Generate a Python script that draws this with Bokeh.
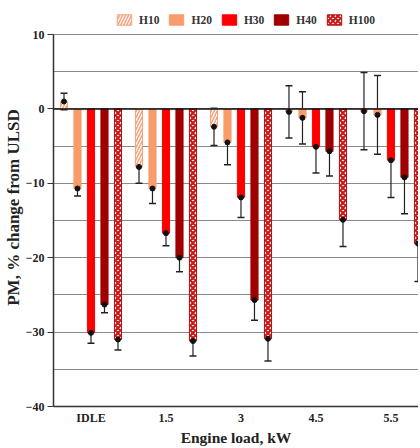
from bokeh.plotting import figure
from bokeh.models import (ColumnDataSource, Range1d, FixedTicker, Span, Whisker,
                          TeeHead, Legend, LegendItem)
from bokeh.embed import file_html
from bokeh.resources import INLINE

loads = ["IDLE", "1.5", "3", "4.5", "5.5"]
blends = ["H10", "H20", "H30", "H40", "H100"]

h10 = [1.0, -7.8, -2.4, -0.4, -0.3]
h20 = [-10.7, -10.7, -4.5, -1.2, -0.8]
h30 = [-30.1, -16.7, -11.9, -5.1, -6.9]
h40 = [-26.3, -20.0, -25.7, -5.7, -9.2]
h100 = [-31.0, -31.2, -30.9, -14.9, -18.1]

h10_err = [1.1, 2.2, 2.5, 3.5, 5.2]
h20_err = [1.0, 2.0, 3.0, 3.5, 5.3]
h30_err = [1.4, 1.7, 2.7, 3.5, 5.0]
h40_err = [1.1, 1.9, 2.7, 3.3, 4.9]
h100_err = [1.4, 2.0, 3.0, 3.6, 5.1]

series = [h10, h20, h30, h40, h100]
errors = [h10_err, h20_err, h30_err, h40_err, h100_err]
offsets = [-0.36, -0.18, 0.0, 0.18, 0.36]

styles = [
    dict(fill_color="white", line_color="#F6A27A", hatch_pattern="/", hatch_color="#F6A27A",
         hatch_weight=1.5, hatch_scale=6),
    dict(fill_color="#F89C6A", line_color="#F89C6A"),
    dict(fill_color="#FF0000", line_color="#FF0000"),
    dict(fill_color="#A00000", line_color="#A00000"),
    dict(fill_color="white", line_color="#B01010", hatch_pattern="x", hatch_color="#C81818",
         hatch_weight=2.2, hatch_scale=5),
]

FONT = "Liberation Serif"
FRAME_H = 398

p = figure(frame_width=365, frame_height=FRAME_H, output_backend="svg", toolbar_location=None,
           x_range=Range1d(0, 4.867), y_range=Range1d(-40, 13.5),
           min_border_left=47, min_border_right=0, min_border_top=8, min_border_bottom=30)
p.outline_line_color = None
p.background_fill_color = "white"

p.xgrid.grid_line_color = None
p.ygrid.ticker = FixedTicker(ticks=list(range(-35, 11, 5)))
p.ygrid.grid_line_color = "#8a8a8a"
p.ygrid.grid_line_width = 1.2

items = []
for i, (vals, errs, off, st, name) in enumerate(zip(series, errors, offsets, styles, blends)):
    xs = [j + 0.5 + off for j in range(len(loads))]
    src = ColumnDataSource(dict(x=xs, top=vals,
                                upper=[v + e for v, e in zip(vals, errs)],
                                lower=[v - e for v, e in zip(vals, errs)]))
    r = p.vbar(x="x", top="top", bottom=0, width=0.095, source=src, line_width=1, **st)
    items.append(LegendItem(label=name, renderers=[r]))
    w = Whisker(base="x", upper="upper", lower="lower", source=src,
                line_color="#222222", line_width=1.2,
                upper_head=TeeHead(size=7, line_color="#222222", line_width=1.5),
                lower_head=TeeHead(size=7, line_color="#222222", line_width=1.5))
    p.add_layout(w)
    p.scatter(x="x", y="top", source=src, size=5, color="#111111")

p.add_layout(Span(location=0, dimension="width", line_color="#111111", line_width=1.5))

p.yaxis.ticker = FixedTicker(ticks=[10, 0, -10, -20, -30, -40])
p.yaxis.bounds = (-40, 10)
p.yaxis.axis_label = "PM, % change from ULSD"
p.xaxis.ticker = FixedTicker(ticks=[j + 0.5 for j in range(len(loads))])
p.xaxis.major_label_overrides = {j + 0.5: lab for j, lab in enumerate(loads)}
p.xaxis.axis_label = "Engine load, kW"
for ax in (p.xaxis[0], p.yaxis[0]):
    ax.axis_line_color = "#333333"
    ax.axis_line_width = 1.5
    ax.major_label_text_font = FONT
    ax.major_label_text_font_style = "bold"
    ax.major_label_text_font_size = "12px"
    ax.major_label_text_color = "#222222"
    ax.axis_label_text_font = FONT
    ax.axis_label_text_font_style = "bold"
    ax.axis_label_text_color = "#222222"
    ax.minor_tick_line_color = None
p.yaxis.axis_label_text_font_size = "17px"
p.xaxis.axis_label_text_font_size = "15.5px"
p.yaxis.major_tick_out = 6
p.yaxis.major_tick_in = 0
p.yaxis.major_tick_line_color = "#333333"
p.yaxis.major_label_standoff = 3
p.yaxis.axis_label_standoff = 0
p.xaxis.major_tick_line_color = None
p.xaxis.major_tick_out = 0
p.xaxis.major_tick_in = 0
p.xaxis.major_label_standoff = 4
p.xaxis.axis_label_standoff = 1

legend = Legend(items=items, orientation="horizontal", location=(62, FRAME_H - 18),
                label_text_font=FONT, label_text_font_style="bold", label_text_font_size="11.5px",
                label_text_color="#333333", glyph_width=18, glyph_height=13, label_height=13,
                spacing=8, padding=2, margin=0, border_line_color=None,
                background_fill_alpha=0, label_standoff=6)
p.add_layout(legend)

open("out.html", "w").write(file_html(p, INLINE))
